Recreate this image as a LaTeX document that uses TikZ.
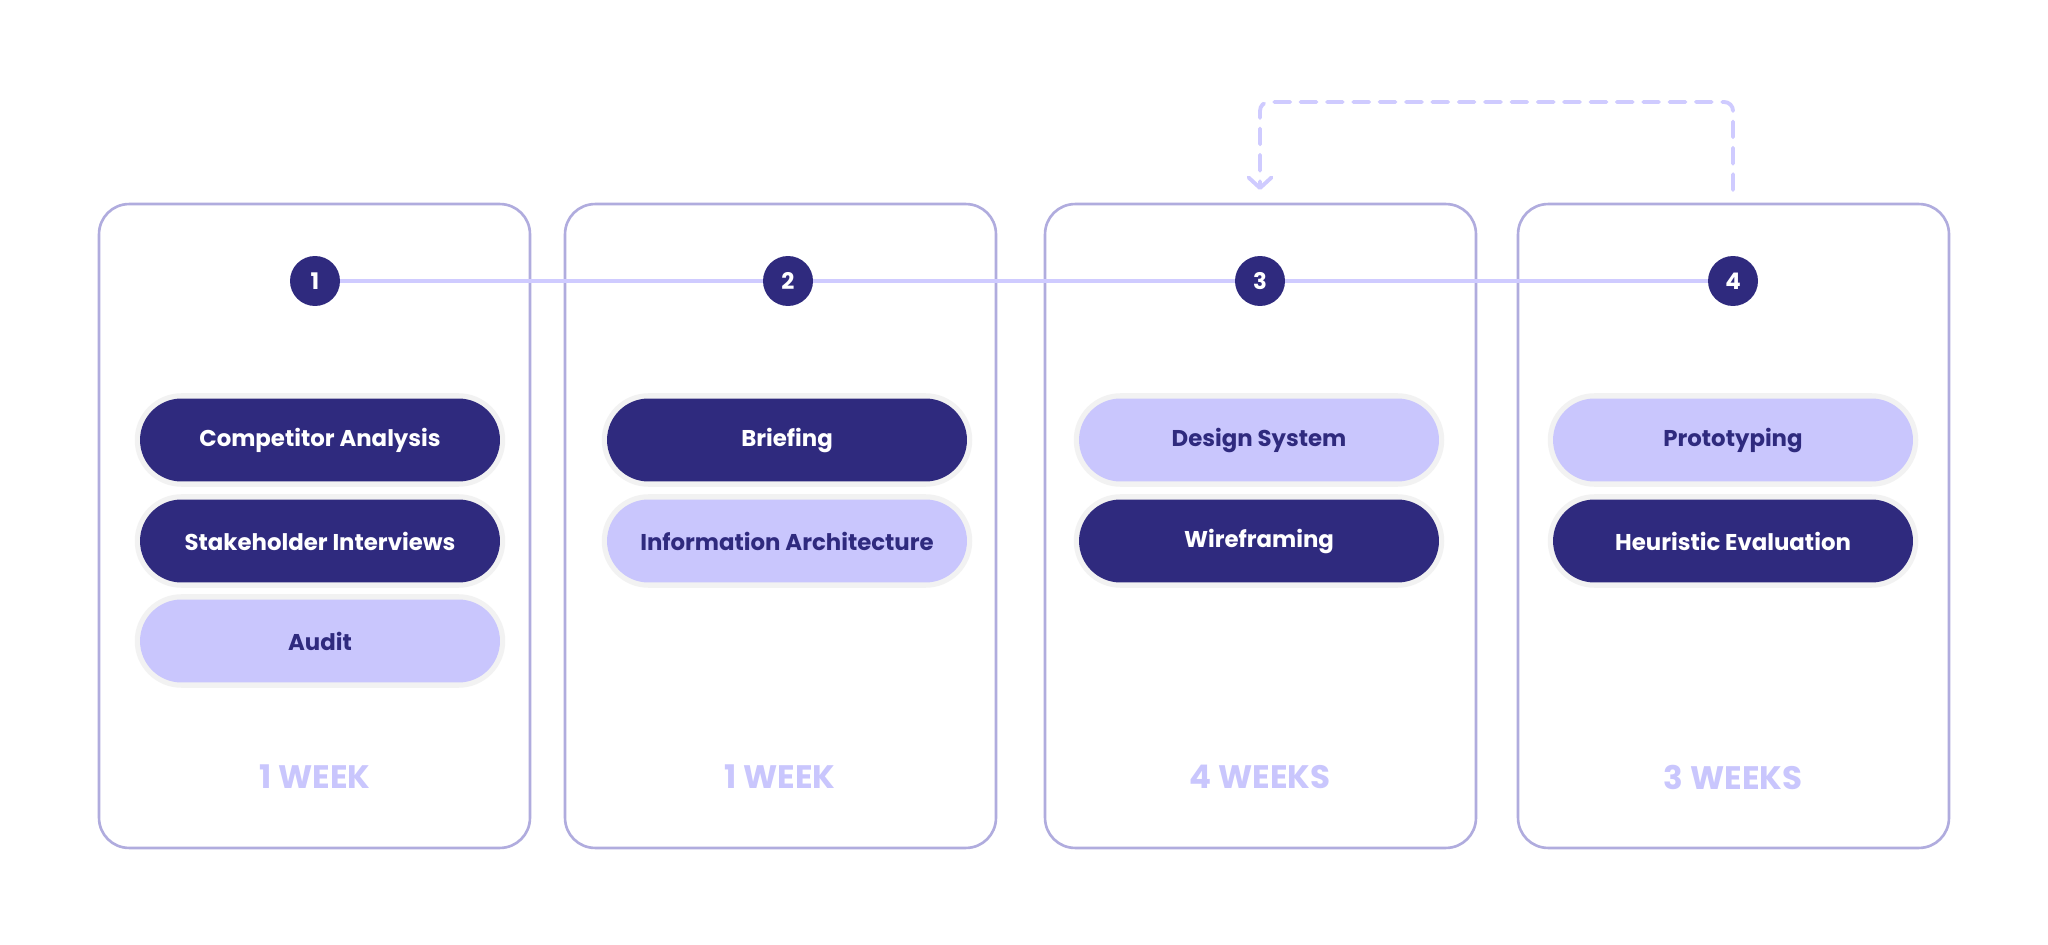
\documentclass[tikz,border=0pt]{standalone}
\usepackage{fontspec}
\setmainfont{Poppins}
\usetikzlibrary{arrows.meta,positioning}
\definecolor{ink}{RGB}{47,42,126}
\definecolor{lilac}{RGB}{201,198,253}
\definecolor{linklilac}{RGB}{207,203,255}
\definecolor{cardedge}{RGB}{176,172,222}
\tikzset{
  stage card/.style={draw=cardedge,line width=1.5pt,rounded corners=0.6cm,minimum width=8.62cm,minimum height=12.88cm,inner sep=0pt},
  step dot/.style={circle,fill=ink,text=white,minimum size=1.0cm,inner sep=0pt,font=\bfseries\fontsize{13}{13}\selectfont},
  step link/.style={draw=linklilac,line width=2.2pt},
  stage title/.style={text=white,font=\bfseries\fontsize{17}{17}\selectfont},
  week label/.style={text=lilac,font=\bfseries\fontsize{18.5}{18.5}\selectfont},
  task pill/.style={rounded corners=0.83cm,minimum width=7.2cm,minimum height=1.66cm,inner sep=0pt,
    font=\bfseries\fontsize{13}{13}\selectfont,preaction={draw=black!5,line width=6pt}},
  task dark/.style={task pill,fill=ink,text=white},
  task light/.style={task pill,fill=lilac,text=ink},
  iterate loop/.style={draw=linklilac,line width=2.2pt,dash pattern=on 9pt off 6pt,line cap=round,rounded corners=5pt,
    -{Straight Barb[length=6pt,width=13pt,round]}},
}
\begin{document}
\begin{tikzpicture}[x=0.02cm,y=-0.02cm]
  \fill[white] (0,0) rectangle (2048,945);
  \useasboundingbox (0,0) rectangle (2048,945);

  % cards
  \node[stage card] (card1) at (314.5,526) {};
  \node[stage card] (card2) at (780.5,526) {};
  \node[stage card] (card3) at (1260.5,526) {};
  \node[stage card] (card4) at (1733.5,526) {};

  % numbered steps
  \node[step dot] (s1) at (315,281) {1};
  \node[step dot] (s2) at (788,281) {2};
  \node[step dot] (s3) at (1260,281) {3};
  \node[step dot] (s4) at (1733,281) {4};
  \draw[step link] (s1) -- (s2);
  \draw[step link] (s2) -- (s3);
  \draw[step link] (s3) -- (s4);

  \node[stage title] (t1) at (315,342) {DISCOVER};
  \node[stage title] (t2) at (788,342) {DEFINE};
  \node[stage title] (t3) at (1260,342) {DESIGN};
  \node[stage title] (t4) at (1733,342) {DELIVER};

  % tasks
  \node[task dark] (p11) at (320,440) {Competitor Analysis};
  \node[task dark] (p12) at (320,541) {Stakeholder Interviews};
  \node[task light] (p13) at (320,641) {Audit};
  \node[task dark] (p21) at (787,440) {Briefing};
  \node[task light] (p22) at (787,541) {Information Architecture};
  \node[task light] (p31) at (1259,440) {Design System};
  \node[task dark] (p32) at (1259,541) {Wireframing};
  \node[task light] (p41) at (1733,440) {Prototyping};
  \node[task dark] (p42) at (1733,541) {Heuristic Evaluation};

  \node[week label] (w1) at (315,777) {1 WEEK};
  \node[week label] (w2) at (780,777) {1 WEEK};
  \node[week label] (w3) at (1260,777) {4 WEEKS};
  \node[week label] (w4) at (1733,777) {3 WEEKS};

  % iterate loop
  \node[stage title] (iter) at (1497,66) {ITERATE};
  \coordinate (loopstart) at (1733,190);
  \coordinate (looptop) at (1497,102);
  \coordinate (loopend) at (1260,190);
  \draw[iterate loop] (loopstart) |- (looptop) -| (loopend);
\end{tikzpicture}
\end{document}
